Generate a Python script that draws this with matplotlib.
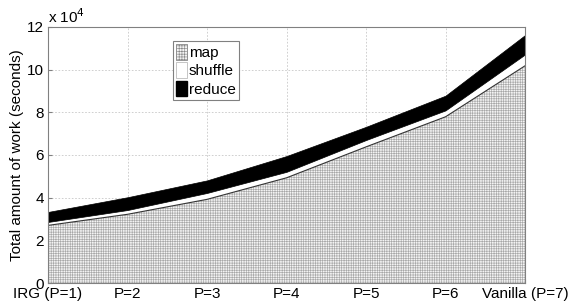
import matplotlib
matplotlib.use("Agg")
import matplotlib.pyplot as plt
import numpy as np
from matplotlib.patches import Patch

plt.rcParams['font.family'] = ['Liberation Sans', 'DejaVu Sans']
plt.rcParams['hatch.linewidth'] = 0.45

categories = ['IRG (P=1)', 'P=2', 'P=3', 'P=4', 'P=5', 'P=6', 'Vanilla (P=7)']
map_work = [27000, 32200, 39200, 49300, 63800, 77900, 101800]
shuffle_work = [1600, 2000, 3000, 2800, 3200, 3000, 5300]
reduce_work = [4700, 6000, 5900, 7400, 6200, 6900, 9100]

x = np.arange(1, len(categories) + 1)
m = np.array(map_work)
s = m + np.array(shuffle_work)
r = s + np.array(reduce_work)

fig = plt.figure(figsize=(5.69, 3.03), dpi=100)
ax = fig.add_axes([0.0844, 0.066, 0.8383, 0.845])

fs = 11
ax.fill_between(x, 0, m, facecolor='#f4f4f4', edgecolor='#a8a8a8', hatch='+++++++', linewidth=0, zorder=2)
ax.plot(x, m, color='#333333', lw=0.8, zorder=3)
ax.fill_between(x, m, s, facecolor='white', edgecolor='none', linewidth=0, zorder=2)
ax.fill_between(x, s, r, facecolor='black', edgecolor='black', linewidth=0.5, zorder=2)

ax.set_xlim(1, 7)
ax.set_ylim(0, 120000)
ax.set_xticks(x)
ax.set_xticklabels(categories, fontsize=fs)
ax.set_yticks(np.arange(0, 120001, 20000))
ax.set_yticklabels([str(v) for v in range(0, 13, 2)], fontsize=fs)
ax.tick_params(direction='in', length=3, color='#808080', pad=3)
ax.grid(True, color='#c8c8c8', linestyle=(0, (2, 2)), linewidth=0.6, zorder=1)
ax.set_axisbelow(True)
for sp in ax.spines.values():
    sp.set_color('#808080')
    sp.set_linewidth(0.8)
    sp.set_zorder(4)

ax.set_ylabel('Total amount of work (seconds)', fontsize=fs, labelpad=2)
ax.text(0.0, 1.005, r'x 10$^4$', transform=ax.transAxes, fontsize=fs, ha='left', va='bottom')

handles = [Patch(facecolor='#f4f4f4', edgecolor='#888888', hatch='++++++', linewidth=0.6),
           Patch(facecolor='white', edgecolor='#bbbbbb', linewidth=0.6),
           Patch(facecolor='black', edgecolor='black')]
leg = ax.legend(handles, ['map', 'shuffle', 'reduce'], loc='upper left',
                bbox_to_anchor=(0.262, 0.945), fontsize=fs, handlelength=0.7,
                handleheight=1.2, handletextpad=0.15, borderpad=0.2, labelspacing=0.15,
                fancybox=False, framealpha=1, edgecolor='#808080', borderaxespad=0)
leg.get_frame().set_linewidth(0.8)

fig.savefig('out.png', dpi=100)
